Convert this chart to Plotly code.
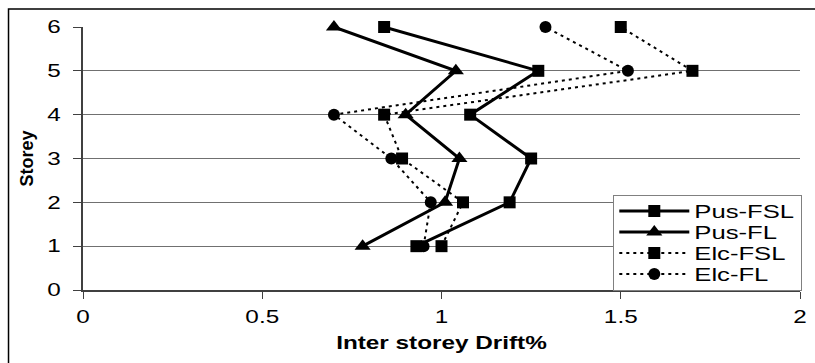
import plotly.graph_objects as go

# Storey levels and inter-storey drift (%) for each analysis case
storeys = [1, 2, 3, 4, 5, 6]
pus_fsl = [0.93, 1.19, 1.25, 1.08, 1.27, 0.84]
pus_fl = [0.78, 1.01, 1.05, 0.90, 1.04, 0.70]
elc_fsl = [1.00, 1.06, 0.89, 0.84, 1.70, 1.50]
elc_fl = [0.95, 0.97, 0.86, 0.70, 1.52, 1.29]

x_ticks = [0, 0.5, 1, 1.5, 2]
x_tick_text = ["0", "0.5", "1", "1.5", "2"]
y_ticks = [0, 1, 2, 3, 4, 5, 6]

FONT = "Liberation Sans, Arial, sans-serif"

fig = go.Figure()

series = [
    ("Pus-FSL", pus_fsl, "solid", 3, "square", 12),
    ("Pus-FL", pus_fl, "solid", 3, "triangle-up", 14),
    ("Elc-FSL", elc_fsl, "3px,4px", 2, "square", 12),
    ("Elc-FL", elc_fl, "3px,4px", 2, "circle", 12),
]
for name, vals, dash, lw, sym, ms in series:
    fig.add_trace(go.Scatter(
        x=vals, y=storeys, name=name, mode="lines+markers",
        line=dict(color="black", width=lw, dash=dash),
        marker=dict(symbol=sym, size=ms, color="black"),
        cliponaxis=False,
    ))

# outer chart border
fig.add_shape(type="rect", xref="paper", yref="paper",
              x0=-75 / 722, x1=808 / 722, y0=-90 / 263, y1=281 / 263,
              line=dict(color="black", width=1.5), fillcolor="rgba(0,0,0,0)",
              layer="below")

fig.update_layout(
    width=815, height=363,
    margin=dict(l=83, r=10, t=27, b=73),
    paper_bgcolor="white", plot_bgcolor="white",
    font=dict(family=FONT, color="black", size=18),
    showlegend=True,
    legend=dict(
        x=(617 - 83) / 722, y=(290 - 195) / 263, xanchor="left", yanchor="top",
        bordercolor="#808080", borderwidth=1, bgcolor="white",
        font=dict(family=FONT, size=19), itemwidth=70,
        tracegroupgap=0,
    ),
    xaxis=dict(
        range=[0, 2], tickvals=x_ticks, ticktext=x_tick_text,
        showgrid=False, zeroline=False,
        showline=True, linecolor="#404040", linewidth=1.5,
        ticks="outside", ticklen=7, tickcolor="#404040", tickwidth=1,
        ticklabelstandoff=3,
        tickfont=dict(size=18),
        title=dict(text="<b>Inter storey Drift%</b>", font=dict(size=18), standoff=10),
    ),
    yaxis=dict(
        range=[0, 6], tickvals=y_ticks,
        showgrid=True, gridcolor="#707070", gridwidth=1,
        zeroline=False,
        showline=True, linecolor="#404040", linewidth=1.5,
        ticks="outside", ticklen=8, tickcolor="#404040", tickwidth=1,
        ticklabelstandoff=9,
        tickfont=dict(size=18),
        title=dict(text="<b>Storey</b>", font=dict(size=18), standoff=12),
    ),
)

# Horizontal text is set slightly expanded; the legend rows are packed tighter
post_js = """
var gd = document.getElementById('{plot_id}');
var S = 1.35;
function stretch(sel) {
  gd.querySelectorAll(sel).forEach(function (t) {
    var w = t.getComputedTextLength();
    if (w > 0) {
      t.setAttribute('textLength', (w * S).toFixed(1));
      t.setAttribute('lengthAdjust', 'spacingAndGlyphs');
    }
  });
}
stretch('.xtick text');
stretch('.ytick text');
stretch('.g-xtitle text');
stretch('.legendtext');
var L = gd.querySelector('.legend');
if (L) {
  var tr = L.querySelectorAll('.traces');
  var step = 21, y0 = 16, W = 188;
  tr.forEach(function (g, i) {
    var m = /translate\\(([-\\d.]+)[ ,]+([-\\d.]+)\\)/.exec(g.getAttribute('transform') || '');
    var x = m ? m[1] : 1;
    g.setAttribute('transform', 'translate(' + x + ',' + (y0 + i * step) + ')');
  });
  var H = y0 * 2 + step * (tr.length - 1);
  var bg = L.querySelector('rect.bg');
  if (bg) { bg.setAttribute('height', H); bg.setAttribute('width', W); }
  document.querySelectorAll('clipPath[id^="legend"] rect').forEach(function (r) {
    r.setAttribute('height', H); r.setAttribute('width', W);
  });
}
"""

fig.write_html("out.html", post_script=post_js)
